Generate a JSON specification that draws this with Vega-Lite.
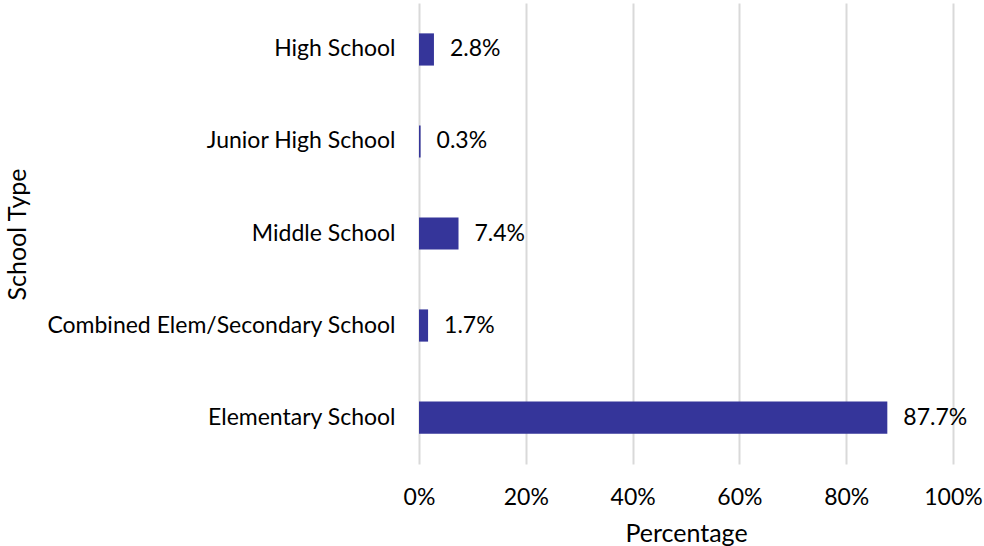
{
  "$schema": "https://vega.github.io/schema/vega-lite/v6.json",
  "width": 534,
  "height": 461,
  "autosize": {"type": "none"},
  "padding": {"left": 419, "top": 3, "right": 31, "bottom": 82},
  "background": "white",
  "config": {
    "view": {"stroke": null},
    "font": "Lato",
    "axis": {"labelFont": "Lato", "titleFont": "Lato", "labelColor": "#000000", "titleColor": "#000000", "titleFontWeight": "normal"}
  },
  "data": {
    "values": [
      {"type": "High School", "pct": 0.028},
      {"type": "Junior High School", "pct": 0.003},
      {"type": "Middle School", "pct": 0.074},
      {"type": "Combined Elem/Secondary School", "pct": 0.017},
      {"type": "Elementary School", "pct": 0.877}
    ]
  },
  "encoding": {
    "y": {
      "field": "type",
      "type": "nominal",
      "sort": null,
      "scale": {"paddingInner": 0.65, "paddingOuter": 0.33},
      "axis": {
        "title": "School Type",
        "titleFontSize": 25,
        "titleX": -402,
        "titleY": 231,
        "titleBaseline": "middle",
        "titleAngle": -90,
        "titleAlign": "center",
        "labelFontSize": 23,
        "labelLimit": 500,
        "labelPadding": 24,
        "ticks": false,
        "domain": false,
        "grid": false
      }
    },
    "x": {
      "field": "pct",
      "type": "quantitative",
      "scale": {"domain": [0, 1], "nice": false},
      "axis": {
        "title": "Percentage",
        "format": ".0%",
        "values": [0, 0.2, 0.4, 0.6, 0.8, 1],
        "labelFlush": false,
        "titleFontSize": 25,
        "labelFontSize": 23,
        "labelPadding": 22,
        "ticks": false,
        "domain": false,
        "grid": true,
        "gridColor": "#d9d9d9",
        "gridWidth": 2,
        "titlePadding": 12
      }
    }
  },
  "layer": [
    {"mark": {"type": "bar", "color": "#35359a"}},
    {
      "mark": {"type": "text", "align": "left", "baseline": "middle", "dx": 16, "fontSize": 23, "font": "Lato", "color": "#000000"},
      "encoding": {"text": {"field": "pct", "type": "quantitative", "format": ".1%"}}
    }
  ]
}
